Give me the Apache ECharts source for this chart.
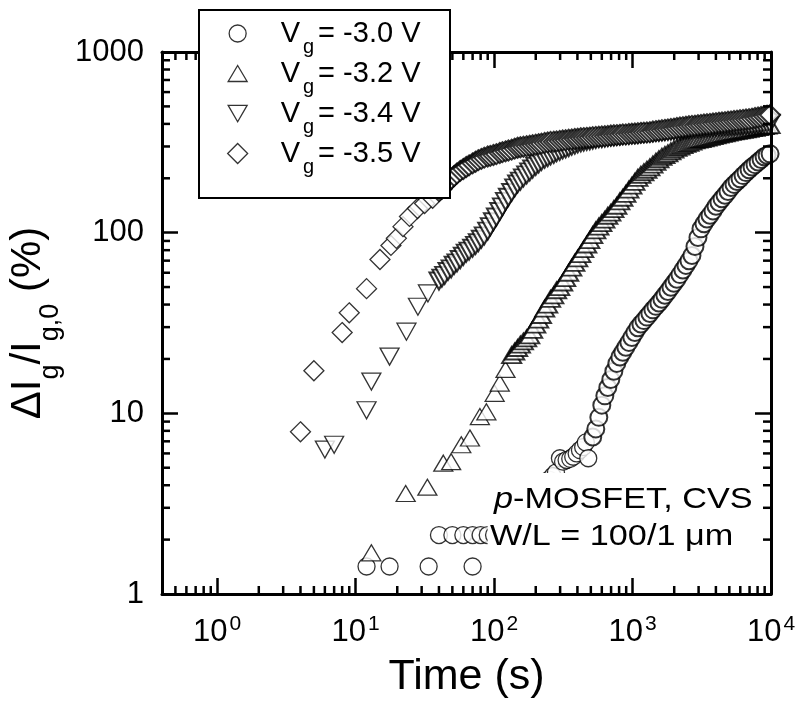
<!DOCTYPE html>
<html><head><meta charset="utf-8">
<script src="https://cdn.jsdelivr.net/npm/echarts@6/dist/echarts.min.js"></script>
<style>html,body{margin:0;padding:0;background:#fff}#c{width:798px;height:702px}</style>
</head><body><div id="c"></div>
<script>
const FONT = '"Liberation Sans", Arial, Helvetica, sans-serif';

// ---- series names / legend text ----
const seriesNames = ['Vg = -3.0 V', 'Vg = -3.2 V', 'Vg = -3.4 V', 'Vg = -3.5 V'];
const legendVoltages = ['-3.0', '-3.2', '-3.4', '-3.5'];

// ---- tick values ----
const yTickLabels = ['1', '10', '100', '1000'];
const xMinorTicks = [0.5,0.6,0.7,0.8,0.9, 2,3,4,5,6,7,8,9, 20,30,40,50,60,70,80,90,
  200,300,400,500,600,700,800,900, 2000,3000,4000,5000,6000,7000,8000,9000];
const yMinorTicks = [2,3,4,5,6,7,8,9, 20,30,40,50,60,70,80,90, 200,300,400,500,600,700,800,900];

// ---- time (s) at which the dense part of every curve was read ----
const tDense = [40,42,44,46.5,49,51.5,54,57,60,63,
  66,70,73.5,77,81,85,90,94,99,104,
  110,115,121,127,134,141,148,155,163,172,
  181,190,200,210,220,232,244,256,270,283,
  298,313,329,346,364,383,402,423,444,467,
  491,516,543,571,600,631,663,697,733,770,
  810,851,895,941,989,1040,1093,1149,1208,1270,
  1335,1403,1475,1550,1630,1713,1801,1893,1990,2092,
  2200,2312,2431,2555,2686,2824,2968,3120,3280,3448,
  3625,3811,4006,4211,4427,4654,4892,5143,5406,5683,
  5975,6281,6602,6941,7296,7670,8063,8477,8911,9368,
  9848];

// ---- Vg = -3.0 V (circles) ----
const circleEarlyT = [12,17.6,33.7,70, 40,50,60,70,80,90,100, 115,130,150,
  250,265,280,299,315,334,355,373,395,417,440,460,479];
const circleEarlyV = [1.42,1.42,1.42,1.42, 2.12,2.12,2.12,2.12,2.12,2.12,2.12, 2.55,2.6,2.6,
  4.3,4.5,4.7,5.64,5.4,5.52,5.6,5.75,6.0,6.26,6.5,6.9,5.64];
// aligned with the last entries of tDense
const circleDenseV = [7.4,8.2,9.5,11.1,12.5,13.9,15.4,17.1,18.9,
  20.5,21.8,23.2,24.7,26.3,28.0,29.8,31.2,32.6,34.1,
  35.7,37.4,39.1,40.8,42.8,45.0,47.3,49.9,52.5,55.2,
  58.6,62.2,65.9,69.9,74.7,83.8,94.0,105,112,119,
  125,132,140,147,154,161,169,178,185,192,
  199,207,215,223,231,238,246,254,263,268,273];

// ---- Vg = -3.2 V (up triangles) ----
const upEarlyT = [13,23,33,43,49,58,67,79,88,101,110,121];
const upEarlyV = [1.69,3.6,3.9,5.3,5.4,6.7,7.3,9.6,10.2,12.9,14.7,17.5];
const upDenseV = [21,22,23,24,25,26,
  27,29,31,33,35,38,40,43,45,48,
  50,53,56,60,64,68,72,76,81,86,
  91,97,103,108,113,118,124,129,135,141,
  149,156,164,173,182,191,201,209,216,223,
  230,238,247,255,263,269,275,282,288,295,
  300,305,310,314,319,324,328,330,333,336,
  339,342,346,349,352,355,358,361,364,366,
  369,371,373,376,379,381,384,387,389,392,394];

// ---- Vg = -3.4 V (down triangles) ----
const downEarlyT = [6,7,12,13,17.6,23.3,28.2,33.3];
const downEarlyV = [6.3,6.7,10.4,15,20.6,28.3,38.9,46.1];
const downDenseV = [54,56,58,61,63,66,68,71,74,77,
  79,82,85,88,92,96,102,108,115,122,
  131,139,149,157,167,177,186,193,201,209,
  217,225,233,240,248,255,260,266,271,277,
  282,287,291,296,301,305,310,314,317,320,
  322,325,328,331,332,334,336,338,339,341,
  342,344,345,346,348,349,350,352,353,354,
  356,357,359,359,361,362,364,365,366,367,
  368,370,371,372,373,375,376,377,379,380,
  381,383,384,385,386,387,388,389,389,390,
  391,392,393,394,395,397,398,400,401,403,404];

// ---- Vg = -3.5 V (diamonds) ----
const diamondEarlyT = [4,5,8,9,12,15,18,19.7,22,24.5,28,31.5,36];
const diamondEarlyV = [7.9,17.2,28,36,49,71,85,93,108,123,136,145,155];
const diamondDenseV = [170,175,183,191,199,206,213,220,225,231,
  236,242,247,252,256,260,264,266,269,272,
  276,279,282,285,288,292,295,297,299,301,
  303,305,307,309,311,314,316,318,319,320,
  322,324,325,327,328,330,331,333,334,335,
  336,338,339,340,341,342,343,345,346,347,
  348,350,350,352,353,354,355,357,358,359,
  360,363,365,367,369,371,373,375,377,380,
  382,384,386,388,390,391,393,395,397,398,
  400,402,404,406,407,409,411,413,415,417,
  419,421,423,425,428,431,434,437,441,444,448];

function zip(ts, vs) { return ts.map((t, i) => [t, vs[i]]); }
function tailT(vs) { return tDense.slice(tDense.length - vs.length); }
// dense (overlapping) readings get a heavier outline so the band reads as dark as in the original
function build(et, ev, dv) {
  const early = zip(et, ev);
  const dense = zip(tailT(dv), dv).map(p => ({ value: p, itemStyle: { borderWidth: 2 } }));
  return early.concat(dense);
}

const markerStyle = { color: '#fff', borderColor: '#000', borderWidth: 1.3 };
const DOWN_TRI = 'path://M0,0L20,0L10,17.3Z';
const symbols = [
  { symbol: 'circle', size: 17, rotate: 0, w: 17, h: 17, icon: 'circle' },
  { symbol: 'triangle', size: [19, 16], rotate: 0, w: 19, h: 16, icon: 'triangle' },
  { symbol: 'triangle', size: [19, 17], rotate: 180, w: 19, h: 17, icon: DOWN_TRI },
  { symbol: 'diamond', size: [20, 20], rotate: 0, w: 20, h: 20, icon: 'diamond' }
];
const seriesData = [
  build(circleEarlyT, circleEarlyV, circleDenseV),
  build(upEarlyT, upEarlyV, upDenseV),
  build(downEarlyT, downEarlyV, downDenseV),
  build(diamondEarlyT, diamondEarlyV, diamondDenseV)
];

const legendRowY = [43, 83, 123, 163];

const chart = echarts.init(document.getElementById('c'), null, { renderer: 'canvas' });

const axisLine = { show: true, onZero: false, lineStyle: { color: '#000', width: 3 } };
const axisTick = { show: true, inside: true, length: 16, lineStyle: { color: '#000', width: 2.5 } };

function fmtX(v) {
  const e = Math.log10(v); const r = Math.round(e);
  if (Math.abs(e - r) > 1e-6) return '';
  return '{b|10}{s|' + r + '}';
}
function fmtY(v) {
  const r = Math.round(Math.log10(v));
  if (Math.abs(Math.log10(v) - r) > 1e-6) return '';
  return yTickLabels[r] || '';
}

const scatterSeries = seriesData.map((d, i) => ({
  name: seriesNames[i], type: 'scatter', data: d,
  symbol: symbols[i].symbol, symbolSize: symbols[i].size, symbolRotate: symbols[i].rotate,
  itemStyle: markerStyle, emphasis: { disabled: true }, z: 2 + i * 0.01, clip: true
}));

const tickStyle = { stroke: '#000', lineWidth: 2.5 };
const minorX = {
  type: 'custom', coordinateSystem: 'cartesian2d', silent: true, z: 5,
  data: xMinorTicks.map(v => [v, 1]),
  renderItem: (params, api) => {
    const x = api.coord([api.value(0), 1])[0];
    const yb = api.coord([1, 1])[1], yt = api.coord([1, 1000])[1];
    return { type: 'group', children: [
      { type: 'line', shape: { x1: x, y1: yb, x2: x, y2: yb - 8 }, style: tickStyle },
      { type: 'line', shape: { x1: x, y1: yt, x2: x, y2: yt + 8 }, style: tickStyle }
    ] };
  }
};
const minorY = {
  type: 'custom', coordinateSystem: 'cartesian2d', silent: true, z: 5,
  data: yMinorTicks.map(v => [1, v]),
  renderItem: (params, api) => {
    const y = api.coord([1, api.value(1)])[1];
    const xl = api.coord([0.4, 1])[0], xr = api.coord([10000, 1])[0];
    return { type: 'group', children: [
      { type: 'line', shape: { x1: xl, y1: y, x2: xl + 8, y2: y }, style: tickStyle },
      { type: 'line', shape: { x1: xr, y1: y, x2: xr - 8, y2: y }, style: tickStyle }
    ] };
  }
};

const legends = symbols.map((s, i) => ({
  data: [{ name: seriesNames[i], icon: s.icon }], orient: 'vertical', left: 237 - s.w / 2, top: legendRowY[i] - 24,
  padding: 0, itemWidth: s.w, itemHeight: s.h, itemGap: 0, selectedMode: false, z: 20,
  symbolRotate: 0,
  itemStyle: { color: '#fff', borderColor: '#000', borderWidth: 1.3 },
  formatter: () => '{v|V}{g|g}{t|= ' + legendVoltages[i] + ' V}',
  textStyle: { rich: {
    v: { fontSize: 29, lineHeight: 48, fontFamily: FONT, color: '#000', padding: [0, 0, 0, 38 - s.w / 2] },
    g: { fontSize: 20, lineHeight: 20, verticalAlign: 'bottom', fontFamily: FONT, color: '#000', padding: [0, 0, 0, 3] },
    t: { fontSize: 29, lineHeight: 48, fontFamily: FONT, color: '#000', padding: [0, 0, 0, 4] }
  } }
}));

const option = {
  animation: false,
  backgroundColor: '#fff',
  grid: { left: 162, right: 27, top: 52, bottom: 108, containLabel: false, outerBoundsMode: 'none' },
  legend: legends,
  xAxis: [
    { type: 'log', logBase: 10, min: 0.4, max: 10000, position: 'bottom', z: 5,
      name: 'Time (s)', nameLocation: 'middle', nameGap: 62,
      nameTextStyle: { fontSize: 43, fontFamily: FONT, color: '#000' },
      axisLine, axisTick, splitLine: { show: false },
      axisLabel: { margin: 20, formatter: fmtX, showMinLabel: false, color: '#000',
        rich: {
          b: { fontSize: 31, lineHeight: 36, fontFamily: FONT, color: '#000' },
          s: { fontSize: 21, lineHeight: 21, verticalAlign: 'top', fontFamily: FONT, color: '#000', padding: [0, 0, 0, 2] }
        } } },
    { type: 'log', logBase: 10, min: 0.4, max: 10000, position: 'top', z: 5,
      axisLine, axisTick, splitLine: { show: false }, axisLabel: { show: false } }
  ],
  yAxis: [
    { type: 'log', logBase: 10, min: 1, max: 1000, position: 'left', z: 5,
      name: '{m|ΔI}{s|g}{m|/I}{s|g,0}{m| (%)}', nameLocation: 'middle', nameRotate: 90, nameGap: 96,
      nameTextStyle: { color: '#000', rich: {
        m: { fontSize: 42, lineHeight: 71, fontFamily: FONT, color: '#000' },
        s: { fontSize: 27, lineHeight: 27, verticalAlign: 'bottom', fontFamily: FONT, color: '#000' }
      } },
      axisLine, axisTick, splitLine: { show: false },
      axisLabel: { margin: 18, fontSize: 31, fontFamily: FONT, color: '#000', formatter: fmtY } },
    { type: 'log', logBase: 10, min: 1, max: 1000, position: 'right', z: 5,
      axisLine, axisTick, splitLine: { show: false }, axisLabel: { show: false } }
  ],
  series: scatterSeries.concat([minorX, minorY]),
  graphic: { elements: [
    { type: 'rect', z: 10, shape: { x: 199, y: 10, width: 251, height: 188 },
      style: { fill: '#fff', stroke: '#000', lineWidth: 2 } },
    { type: 'text', z: 10, x: 491.6, y: 495, scaleX: 1.18,
      style: { text: '{i|p}-MOSFET, CVS', fontSize: 29, fontFamily: FONT, fill: '#000',
        verticalAlign: 'middle', align: 'left', lineHeight: 34, backgroundColor: '#fff', padding: [10, 2, 0, 2],
        rich: { i: { fontStyle: 'italic', fontSize: 29, fontFamily: FONT, lineHeight: 34, fill: '#000' } } } },
    { type: 'text', z: 10, x: 487.6, y: 537, scaleX: 1.18,
      style: { text: 'W/L = 100/1 μm', fontSize: 29, fontFamily: FONT, fill: '#000',
        verticalAlign: 'middle', align: 'left', lineHeight: 34, backgroundColor: '#fff', padding: [4, 2, 4, 2] } }
  ] }
};
chart.setOption(option);
</script>
</body></html>
